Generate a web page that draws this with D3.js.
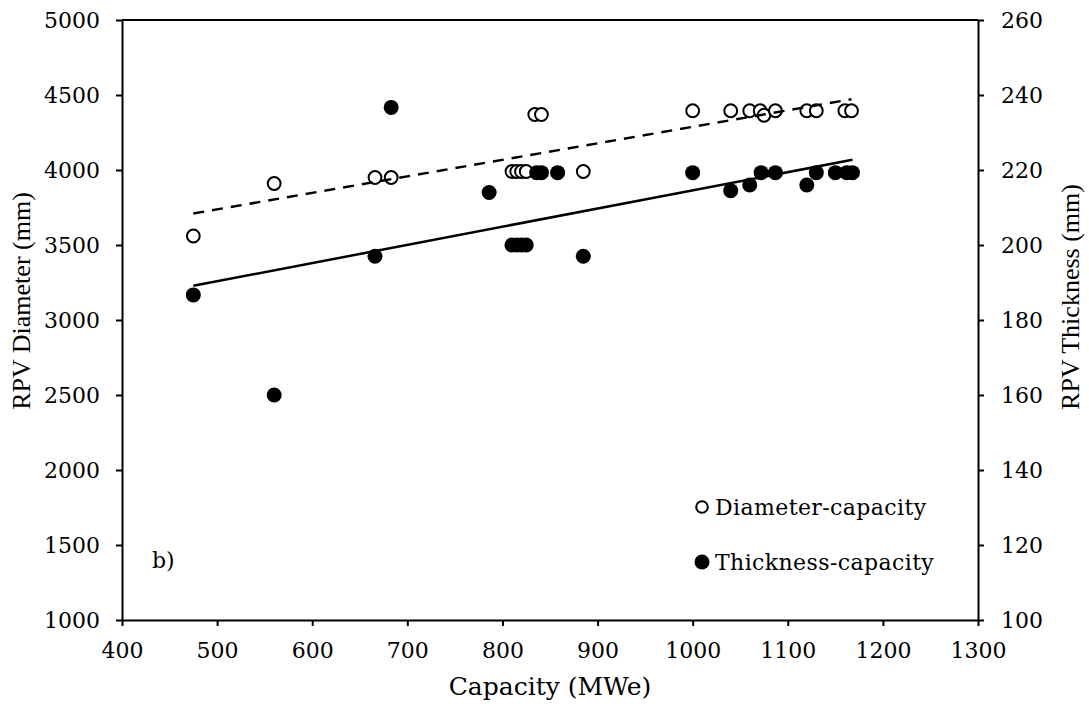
<!DOCTYPE html>
<html>
<head>
<meta charset="utf-8">
<script src="https://cdn.jsdelivr.net/npm/d3@7"></script>
<style>
  html, body { margin: 0; padding: 0; background: #fff; }
  svg { display: block; }
</style>
</head>
<body>
<svg id="chart" width="1089" height="707"></svg>
<script>
// ---------- data ----------
const diamCapacity = [475, 560, 666, 683, 810, 815, 820, 825, 834, 841, 885, 1000, 1040, 1060, 1071, 1075, 1087, 1120, 1130, 1160, 1167];
const diamValues   = [3560, 3910, 3950, 3950, 3990, 3990, 3990, 3990, 4370, 4370, 3990, 4395, 4395, 4395, 4395, 4365, 4395, 4395, 4395, 4395, 4395];

const thickCapacity = [475, 560, 666, 683, 786, 810, 815, 820, 825, 836, 841, 858, 885, 1000, 1040, 1060, 1072, 1087, 1120, 1130, 1150, 1162, 1168];
const thickValues   = [186.7, 160, 197, 236.7, 214, 200, 200, 200, 200, 219.3, 219.3, 219.3, 197, 219.3, 214.5, 216, 219.3, 219.3, 216, 219.3, 219.3, 219.3, 219.3];

const xTicks = [400, 500, 600, 700, 800, 900, 1000, 1100, 1200, 1300];
const yLeftTicks = [1000, 1500, 2000, 2500, 3000, 3500, 4000, 4500, 5000];
const yRightTicks = [100, 120, 140, 160, 180, 200, 220, 240, 260];
const legendLabels = ["Diameter-capacity", "Thickness-capacity"];
const xTitle = "Capacity (MWe)";
const yLeftTitle = "RPV Diameter (mm)";
const yRightTitle = "RPV Thickness (mm)";
const panelLabel = "b)";

// ---------- layout ----------
const L = 122, R = 978, T = 20, B = 620;
const svg = d3.select("#chart");
const x = d3.scaleLinear().domain([400, 1300]).range([L, R]);
const yL = d3.scaleLinear().domain([1000, 5000]).range([B, T]);
const yR = d3.scaleLinear().domain([100, 260]).range([B, T]);

const tickFont = "'DejaVu Serif', serif";
const titleFont = "'Liberation Serif', 'Times New Roman', serif";

// linear least squares fit
function fit(xs, ys) {
  const n = xs.length;
  const mx = d3.mean(xs), my = d3.mean(ys);
  let sxy = 0, sxx = 0;
  for (let i = 0; i < n; i++) { sxy += (xs[i] - mx) * (ys[i] - my); sxx += (xs[i] - mx) ** 2; }
  const b = sxy / sxx, a = my - b * mx;
  return v => a + b * v;
}

function styleAxis(g) {
  g.selectAll(".domain").attr("stroke", "#000").attr("stroke-width", 2);
  g.selectAll(".tick line").attr("stroke", "#000").attr("stroke-width", 2);
  g.selectAll(".tick text").attr("font-family", tickFont).attr("font-size", 22).attr("fill", "#000");
}

// top border
svg.append("line").attr("x1", L).attr("x2", R).attr("y1", T).attr("y2", T)
  .attr("stroke", "#000").attr("stroke-width", 2);

svg.append("g").attr("transform", `translate(0,${B})`)
  .call(d3.axisBottom(x).tickValues(xTicks).tickSize(6).tickPadding(16).tickSizeOuter(0).tickFormat(d3.format("d")))
  .call(styleAxis);

svg.append("g").attr("transform", `translate(${L},0)`)
  .call(d3.axisLeft(yL).tickValues(yLeftTicks).tickSize(6).tickPadding(16).tickSizeOuter(0).tickFormat(d3.format("d")))
  .call(styleAxis);

svg.append("g").attr("transform", `translate(${R},0)`)
  .call(d3.axisRight(yR).tickValues(yRightTicks).tickSize(6).tickPadding(17).tickSizeOuter(0).tickFormat(d3.format("d")))
  .call(styleAxis);

// titles
svg.append("text").attr("x", (L + R) / 2).attr("y", 695).attr("text-anchor", "middle")
  .attr("font-family", tickFont).attr("font-size", 25).text(xTitle);
svg.append("text").attr("transform", "translate(30,301) rotate(-90)").attr("text-anchor", "middle")
  .attr("font-family", titleFont).attr("font-size", 26).text(yLeftTitle);
svg.append("text").attr("transform", "translate(1079,297) rotate(-90)").attr("text-anchor", "middle")
  .attr("font-family", titleFont).attr("font-size", 26).text(yRightTitle);

// panel label
svg.append("text").attr("x", 152).attr("y", 568)
  .attr("font-family", tickFont).attr("font-size", 22).text(panelLabel);

// data
const diamPts = diamCapacity.map((c, i) => ({ c, v: diamValues[i] }));
const thickPts = thickCapacity.map((c, i) => ({ c, v: thickValues[i] }));

svg.append("g").selectAll("circle").data(diamPts).join("circle")
  .attr("cx", d => x(d.c)).attr("cy", d => yL(d.v)).attr("r", 6.4)
  .attr("fill", "#fff").attr("stroke", "#000").attr("stroke-width", 2);

svg.append("g").selectAll("circle").data(thickPts).join("circle")
  .attr("cx", d => x(d.c)).attr("cy", d => yR(d.v)).attr("r", 7.5)
  .attr("fill", "#000");

// trend lines
const fD = fit(diamCapacity, diamValues);
const fT = fit(thickCapacity, thickValues);
const dx = d3.extent(diamCapacity), tx = d3.extent(thickCapacity);
svg.append("line")
  .attr("x1", x(dx[0])).attr("y1", yL(fD(dx[0]))).attr("x2", x(dx[1])).attr("y2", yL(fD(dx[1])))
  .attr("stroke", "#000").attr("stroke-width", 2.5).attr("stroke-dasharray", "11,8");
svg.append("line")
  .attr("x1", x(tx[0])).attr("y1", yR(fT(tx[0]))).attr("x2", x(tx[1])).attr("y2", yR(fT(tx[1])))
  .attr("stroke", "#000").attr("stroke-width", 2.5);

// legend
const lg = svg.append("g");
lg.append("circle").attr("cx", 702).attr("cy", 507).attr("r", 5.8)
  .attr("fill", "#fff").attr("stroke", "#000").attr("stroke-width", 2);
lg.append("circle").attr("cx", 702).attr("cy", 562).attr("r", 7.5).attr("fill", "#000");
lg.selectAll("text").data(legendLabels).join("text")
  .attr("x", 715).attr("y", (d, i) => 515 + i * 55)
  .attr("font-family", tickFont).attr("font-size", 22).attr("letter-spacing", 0.4)
  .text(d => d);
</script>
</body>
</html>
